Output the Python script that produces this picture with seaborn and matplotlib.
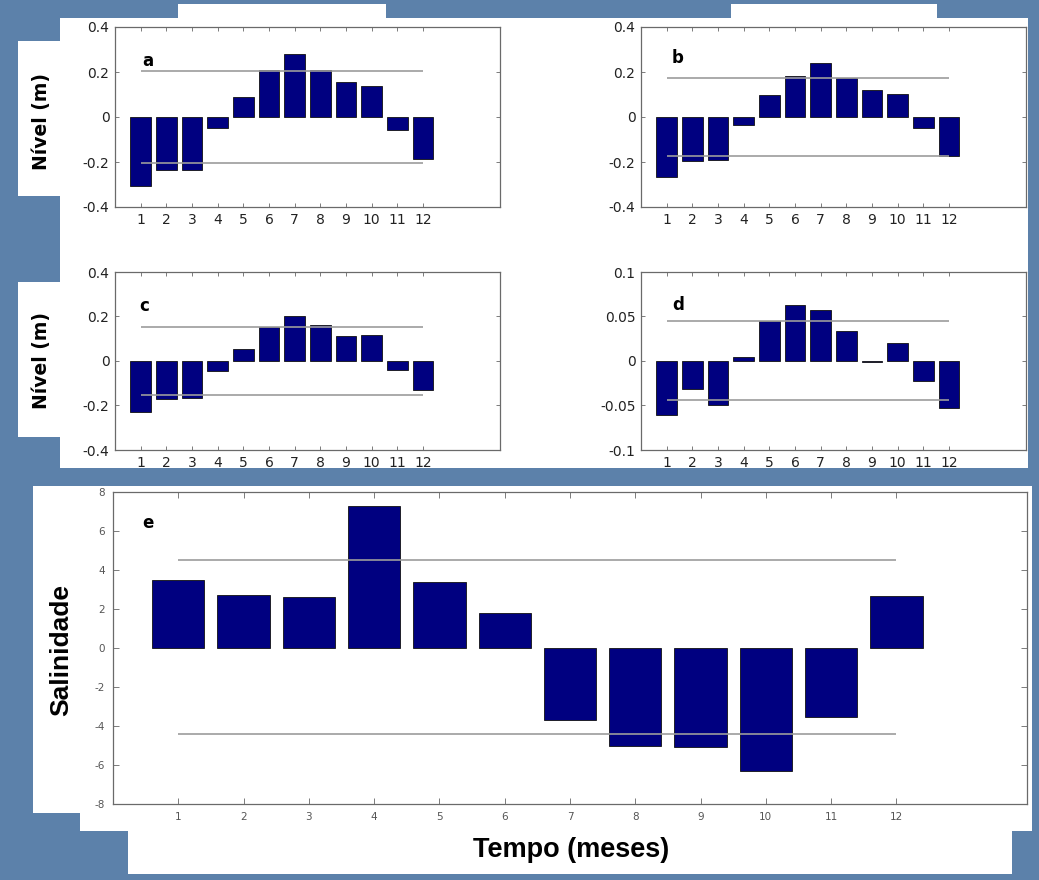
import matplotlib
matplotlib.use("Agg")
import matplotlib.pyplot as plt
from matplotlib.patches import Rectangle
import seaborn as sns
import pandas as pd

# dados
meses = list(range(1, 13))
nivel_a = [-0.305, -0.237, -0.234, -0.051, 0.091, 0.210, 0.281, 0.207, 0.155, 0.136, -0.060, -0.185]
nivel_b = [-0.266, -0.196, -0.193, -0.034, 0.096, 0.182, 0.239, 0.173, 0.118, 0.104, -0.051, -0.175]
nivel_c = [-0.228, -0.172, -0.167, -0.047, 0.053, 0.151, 0.204, 0.164, 0.114, 0.117, -0.040, -0.132]
nivel_d = [-0.0604, -0.032, -0.050, 0.005, 0.045, 0.0626, 0.057, 0.034, -0.001, 0.020, -0.022, -0.053]
salinidade_e = [3.50, 2.70, 2.60, 7.26, 3.40, 1.81, -3.69, -5.04, -5.06, -6.29, -3.54, 2.65]

# limites (linhas cinza) de cada painel
banda_a = [0.204, -0.204]
banda_b = [0.173, -0.172]
banda_c = [0.151, -0.151]
banda_d = [0.0448, -0.0433]
banda_e = [4.50, -4.41]

ticks_nivel = [-0.4, -0.2, 0, 0.2, 0.4]
labels_nivel = ["-0.4", "-0.2", "0", "0.2", "0.4"]
ticks_d = [-0.1, -0.05, 0, 0.05, 0.1]
labels_d = ["-0.1", "-0.05", "0", "0.05", "0.1"]
ticks_e = [-8, -6, -4, -2, 0, 2, 4, 6, 8]

AZUL = "#000080"
FUNDO = "#5c81aa"
CINZA = "#9c9c9c"

W, H = 1039, 880

plt.rcParams["font.family"] = ["DejaVu Sans"]
plt.rcParams["axes.unicode_minus"] = False

fig = plt.figure(figsize=(W / 100, H / 100), dpi=100)
fig.patch.set_facecolor(FUNDO)


def caixa(x0, y0, x1, y1):
    # retangulo branco em pixels (origem no topo)
    fig.patches.append(Rectangle((x0 / W, 1 - y1 / H), (x1 - x0) / W, (y1 - y0) / H,
                                 transform=fig.transFigure, facecolor="white",
                                 edgecolor="none", zorder=-5))


# fundos brancos do slide
caixa(60, 18, 1028, 468)
caixa(178, 4, 386, 18)
caixa(731, 4, 937, 18)
caixa(18, 41, 60, 196)
caixa(18, 282, 60, 437)
caixa(33, 486, 1032, 813)
caixa(80, 813, 1032, 831)
caixa(128, 831, 1012, 874)


def eixo(x0, y0, x1, y1):
    return fig.add_axes([x0 / W, 1 - y1 / H, (x1 - x0) / W, (y1 - y0) / H])


def painel(ax, valores, banda, ylim, yticks, ylabels, letra, letra_pos,
           xmax, tam_tick, cor_tick):
    df = pd.DataFrame({"mes": meses, "valor": valores})
    sns.barplot(data=df, x="mes", y="valor", native_scale=True, width=0.8,
                color=AZUL, saturation=1, edgecolor="#111111", linewidth=0.6,
                ax=ax)
    ax.hlines(banda, meses[0], meses[-1], color=CINZA, lw=1.2, zorder=4)
    ax.set_xlim(0, xmax)
    ax.set_ylim(*ylim)
    ax.set_xticks(meses)
    ax.set_xticklabels([str(m) for m in meses])
    ax.set_yticks(yticks)
    ax.set_yticklabels(ylabels)
    ax.set_xlabel("")
    ax.set_ylabel("")
    ax.set_facecolor("white")
    ax.tick_params(direction="in", top=True, right=True, length=3, width=0.6,
                   color="#666666", labelsize=tam_tick, labelcolor=cor_tick, pad=4)
    for s in ax.spines.values():
        s.set_color("#6a6a6a")
        s.set_linewidth(0.9)
    ax.text(letra_pos[0], letra_pos[1], letra, transform=ax.transAxes,
            fontsize=12, fontweight="heavy", va="center", ha="left")


ax_a = eixo(115, 27, 500, 207)
ax_b = eixo(641, 27, 1026, 207)
ax_c = eixo(115, 272, 500, 450)
ax_d = eixo(641, 272, 1026, 450)
ax_e = eixo(113, 492, 1027, 804)

painel(ax_a, nivel_a, banda_a, (-0.4, 0.4), ticks_nivel, labels_nivel, "a",
       (0.072, 0.81), 15, 10, "#222222")
painel(ax_b, nivel_b, banda_b, (-0.4, 0.4), ticks_nivel, labels_nivel, "b",
       (0.080, 0.83), 15, 10, "#222222")
painel(ax_c, nivel_c, banda_c, (-0.4, 0.4), ticks_nivel, labels_nivel, "c",
       (0.062, 0.81), 15, 10, "#222222")
painel(ax_d, nivel_d, banda_d, (-0.1, 0.1), ticks_d, labels_d, "d",
       (0.080, 0.815), 15, 10, "#222222")
painel(ax_e, salinidade_e, banda_e, (-8, 8), ticks_e, [str(t) for t in ticks_e], "e",
       (0.032, 0.90), 14, 7.5, "#555555")
ax_e.tick_params(length=4, pad=6)

# rotulos dos eixos
fig.text(42 / W, 1 - 121 / H, "Nível (m)", rotation=90, fontsize=13.5,
         fontweight="bold", ha="center", va="center")
fig.text(42 / W, 1 - 360 / H, "Nível (m)", rotation=90, fontsize=13.5,
         fontweight="bold", ha="center", va="center")
fig.text(61 / W, 1 - 650 / H, "Salinidade", rotation=90, fontsize=19,
         fontweight="bold", family="Liberation Sans", ha="center", va="center")
fig.text(571 / W, 1 - 850 / H, "Tempo (meses)", fontsize=19.5,
         fontweight="bold", family="Liberation Sans", ha="center", va="center")

fig.savefig("out.png", dpi=100, facecolor=fig.get_facecolor())
